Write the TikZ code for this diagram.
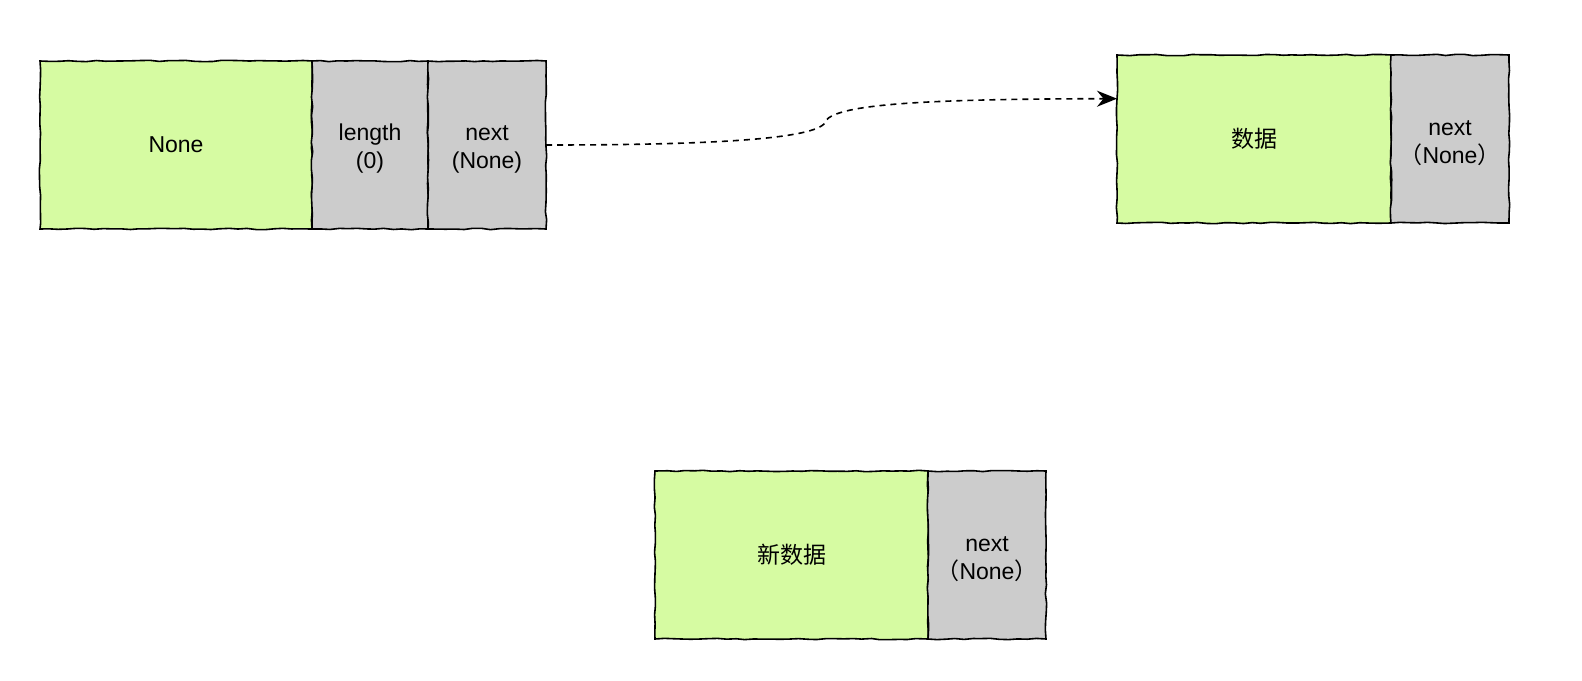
\documentclass[tikz,border=0pt]{standalone}
\usepackage{fontspec}
\setmainfont{Liberation Sans}
\newfontfamily\cjk{Noto Sans CJK SC}
\usetikzlibrary{arrows.meta,positioning,calc,decorations.pathmorphing}
\definecolor{SketchGreen}{RGB}{214,251,162}
\definecolor{SketchGray}{RGB}{204,204,204}
\tikzset{
  sketchy/.style={decorate,decoration={random steps,segment length=9pt,amplitude=0.7pt}},
  datacell/.style={draw=black,fill=SketchGreen,line width=1.6pt,sketchy,
    minimum height=168pt,inner sep=0pt,outer sep=0pt,align=center,
    font=\fontsize{23}{28}\selectfont},
  ptrcell/.style={draw=black,fill=SketchGray,line width=1.6pt,sketchy,
    minimum height=168pt,minimum width=118pt,inner sep=0pt,outer sep=0pt,
    align=center,font=\fontsize{23}{28}\selectfont},
  link/.style={-{Stealth[length=20pt,width=16pt]},line width=1.6pt,
    dash pattern=on 6pt off 5pt}
}
\pgfmathsetmacro{\strutht}{24}
\pgfmathsetseed{7}

\begin{document}
\begin{tikzpicture}[x=1pt,y=-1pt]
\useasboundingbox (0,0) rectangle (1582,680);

% head of the list
\node[datacell,minimum width=272pt,anchor=north west] (headdata) at (40,61) {None};
\node[ptrcell,minimum width=116pt,right=0pt of headdata] (headlen) {\rule{0pt}{\strutht pt}length\\(0)};
\node[ptrcell,right=0pt of headlen] (headnext) {\rule{0pt}{\strutht pt}next\\(None)};

% first data node
\node[datacell,minimum width=274pt,anchor=north west] (firstdata) at (1117,55) {\cjk 数据};
\node[ptrcell,right=0pt of firstdata] (firstnext) {\rule{0pt}{\strutht pt}next\\{\cjk （}None{\cjk ）}};

% new data node
\node[datacell,minimum width=273pt,anchor=north west] (newdata) at (655,471) {\cjk 新数据};
\node[ptrcell,right=0pt of newdata] (newnext) {\rule{0pt}{\strutht pt}next\\{\cjk （}None{\cjk ）}};

\coordinate (firstin) at ($(firstdata.north west)!0.26!(firstdata.south west)$);
\draw[link] (headnext.east) .. controls (700,145) and (808,140) .. (824,124)
  .. controls (828,106) and (900,99) .. (firstin);

\end{tikzpicture}
\end{document}
